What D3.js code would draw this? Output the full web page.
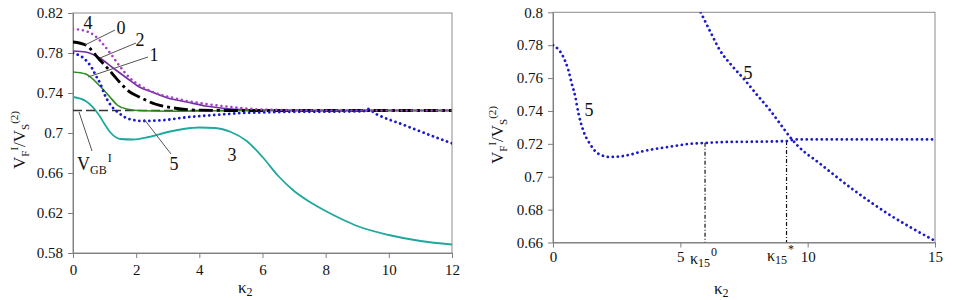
<!DOCTYPE html>
<html>
<head>
<meta charset="utf-8">
<script src="https://cdn.jsdelivr.net/npm/d3@7"></script>
<style>
  body { margin: 0; background: #fff; }
  .axis path, .axis line { stroke: #7f7f7f; }
  .axis text { font-size: 15px; fill: #111; }
</style>
</head>
<body>
<div id="chart"></div>
<script>
// ---- left panel data (kappa2 vs V_F/V_S) ----
var k4 = [0, 0.4, 0.7, 1.0, 1.2, 1.5, 1.8, 2.2, 2.7, 3.2, 3.6, 4.0, 5.0, 6.0, 8.0, 12.0];
var v4 = [0.804, 0.802, 0.797, 0.787, 0.779, 0.766, 0.755, 0.746, 0.739, 0.735, 0.732, 0.730, 0.726, 0.7235, 0.7225, 0.7225];

var k0 = [0, 0.4, 0.85, 1.2, 1.5, 1.8, 2.1, 2.6, 3.2, 4.0, 5.0, 12.0];
var v0 = [0.791, 0.788, 0.773, 0.761, 0.750, 0.741, 0.736, 0.729, 0.725, 0.7228, 0.7225, 0.7225];

var k2 = [0, 0.4, 0.85, 1.27, 1.7, 2.1, 2.5, 3.0, 3.6, 4.2, 5.0, 6.0, 8.0, 12.0];
var v2 = [0.782, 0.781, 0.775, 0.765, 0.755, 0.746, 0.741, 0.735, 0.731, 0.727, 0.724, 0.723, 0.7225, 0.7225];

var k1 = [0, 0.4, 0.85, 1.17, 1.4, 1.7, 2.2, 3.0, 4.0, 6.0, 12.0];
var v1 = [0.761, 0.759, 0.747, 0.736, 0.728, 0.724, 0.7222, 0.7218, 0.722, 0.7225, 0.7225];

var k3 = [0, 0.4, 0.8, 1.0, 1.2, 1.5, 1.9, 2.4, 3.0, 3.5, 4.0, 4.5, 5.0, 5.5, 6.0, 6.5, 7.0, 7.5, 8.0, 8.5, 9.0, 10.0, 11.0, 12.0];
var v3 = [0.736, 0.732, 0.719, 0.709, 0.700, 0.694, 0.6935, 0.696, 0.701, 0.704, 0.7055, 0.705, 0.701, 0.692, 0.676, 0.657, 0.642, 0.631, 0.622, 0.614, 0.607, 0.598, 0.592, 0.5885];

var kGB = [0, 12];
var vGB = [0.7225, 0.7225];

// ---- curve 5, two branches (right panel) ----
var k5a = [0, 0.4, 0.6, 0.73, 0.87, 1.0, 1.19, 1.45, 1.78, 2.24, 2.9, 3.55, 4.47, 5.38, 6.0, 7.0, 8.0, 9.2, 9.5, 12.0, 15.0];
var v5a = [0.780, 0.773, 0.765, 0.757, 0.749, 0.7385, 0.728, 0.720, 0.714, 0.712, 0.713, 0.7156, 0.718, 0.720, 0.7206, 0.7212, 0.7213, 0.7217, 0.7227, 0.7227, 0.7227];

var k5b = [5.8, 6.2, 6.55, 7.0, 7.55, 8.0, 8.52, 9.0, 9.3, 9.6, 10.48, 11.8, 13.1, 15.0];
var v5b = [0.800, 0.7875, 0.777, 0.768, 0.7585, 0.750, 0.7405, 0.7305, 0.7243, 0.719, 0.708, 0.692, 0.678, 0.661];

var kStar = [5.97, 9.17];      // kappa15^0, kappa15^*
var vStar = [0.7206, 0.7217];

var leftXTicks = [0, 2, 4, 6, 8, 10, 12];
var leftYTicks = [0.58, 0.62, 0.66, 0.7, 0.74, 0.78, 0.82];
var rightXTicks = [0, 5, 10, 15];
var rightYTicks = [0.66, 0.68, 0.7, 0.72, 0.74, 0.76, 0.78, 0.8];

var serif = "'Liberation Serif', 'Times New Roman', serif";

function pts(ks, vs) { return ks.map(function(k, i) { return [k, vs[i]]; }); }

var width = 956, height = 300;
var svg = d3.select("#chart").append("svg")
  .attr("width", width).attr("height", height)
  .style("display", "block")
  .attr("font-family", serif);

var defs = svg.append("defs");

function fmt(d) { return String(+d.toFixed(2)); }

function panel(id, x, y, xt, yt, xpad) {
  defs.append("clipPath").attr("id", id)
    .append("rect")
    .attr("x", x.range()[0]).attr("y", y.range()[1])
    .attr("width", x.range()[1] - x.range()[0])
    .attr("height", y.range()[0] - y.range()[1]);

  svg.append("rect")
    .attr("x", x.range()[0]).attr("y", y.range()[1])
    .attr("width", x.range()[1] - x.range()[0])
    .attr("height", y.range()[0] - y.range()[1])
    .attr("fill", "none").attr("stroke", "#8c8c8c").attr("stroke-width", 1);

  svg.append("g").attr("class", "axis")
    .attr("transform", "translate(0," + y.range()[0] + ")")
    .call(d3.axisBottom(x).tickValues(xt).tickSize(5).tickPadding(xpad).tickSizeOuter(0).tickFormat(d3.format("d")))
    .attr("font-family", serif).attr("font-size", 15);

  svg.append("g").attr("class", "axis")
    .attr("transform", "translate(" + x.range()[0] + ",0)")
    .call(d3.axisLeft(y).tickValues(yt).tickSize(5).tickPadding(5).tickSizeOuter(0).tickFormat(fmt))
    .attr("font-family", serif).attr("font-size", 15);

  return svg.append("g").attr("clip-path", "url(#" + id + ")");
}

function draw(g, x, y, data, color, w, dash) {
  var line = d3.line().x(function(d) { return x(d[0]); }).y(function(d) { return y(d[1]); })
    .curve(d3.curveMonotoneX);
  var p = g.append("path").datum(data)
    .attr("d", line)
    .attr("fill", "none")
    .attr("stroke", color)
    .attr("stroke-width", w);
  if (dash) p.attr("stroke-dasharray", dash);
  if (dash && dash.indexOf("0.01") === 0) p.attr("stroke-linecap", "round");
  return p;
}

function label(txt, x, y, size) {
  return svg.append("text").attr("x", x).attr("y", y)
    .attr("font-size", size || 18).attr("text-anchor", "middle").attr("fill", "#111").text(txt);
}

function leader(x1, y1, x2, y2) {
  svg.append("line").attr("x1", x1).attr("y1", y1).attr("x2", x2).attr("y2", y2)
    .attr("stroke", "#555").attr("stroke-width", 1);
}

function yTitle(cx, cy) {
  var t = svg.append("text")
    .attr("transform", "translate(" + cx + "," + cy + ") rotate(-90)")
    .attr("text-anchor", "middle").attr("font-size", 17).attr("fill", "#111");
  t.append("tspan").text("V");
  t.append("tspan").attr("font-size", 11).attr("dy", 4).text("F");
  t.append("tspan").attr("font-size", 11).attr("dy", -11).text("I");
  t.append("tspan").attr("dy", 7).text("/V");
  t.append("tspan").attr("font-size", 11).attr("dy", 4).text("S");
  t.append("tspan").attr("font-size", 11).attr("dy", -11).text("(2)");
}

function kappa(x, y, sub, sup, size) {
  var t = svg.append("text").attr("x", x).attr("y", y).attr("font-size", size || 17).attr("fill", "#111");
  t.append("tspan").text("κ");
  t.append("tspan").attr("font-size", 12).attr("dy", 3).text(sub);
  if (sup) t.append("tspan").attr("font-size", 12).attr("dy", -11).attr("dx", 1).text(sup);
  return t;
}

// ---------- left panel ----------
var xL = d3.scaleLinear().domain([0, 12]).range([73, 452]);
var yL = d3.scaleLinear().domain([0.58, 0.82]).range([253, 13]);
var gL = panel("clipL", xL, yL, leftXTicks, leftYTicks, 6);

// curve 5 on the left follows the lower branch up to the crossing, then the descending one
var left5 = pts(k5a, v5a).filter(function(d) { return d[0] <= 9.2; })
  .concat(pts(k5b, v5b).filter(function(d) { return d[0] >= 9.3; }));

draw(gL, xL, yL, pts(k3, v3), "#1fa89c", 1.8);
draw(gL, xL, yL, pts(kGB, vGB), "#333", 1.3, "9,4");
draw(gL, xL, yL, pts(k2, v2), "#7030a0", 1.6);
draw(gL, xL, yL, pts(k1, v1), "#2e8b1e", 1.6);
draw(gL, xL, yL, pts(k0, v0), "#000", 2.8, "14,4,3,4");
draw(gL, xL, yL, left5, "#1a1acc", 2.8, "0.01,5");
draw(gL, xL, yL, pts(k4, v4), "#a43fc9", 2.6, "0.01,5");

label("4", 88, 29);
label("0", 121, 34);
label("2", 140, 46);
label("1", 154, 61);
label("5", 174, 170);
label("3", 232, 161);
leader(115, 30, 85, 45);
leader(136, 43, 100, 58);
leader(148, 57, 88, 77);
leader(144, 119, 171, 154);
leader(79, 112, 92, 151);

var gb = svg.append("text").attr("x", 77).attr("y", 170).attr("font-size", 18).attr("fill", "#111");
gb.append("tspan").text("V");
gb.append("tspan").attr("font-size", 12).attr("dy", 4).text("GB");
gb.append("tspan").attr("font-size", 12).attr("dy", -12).attr("dx", 1).text("I");

yTitle(25, 140);
kappa(238, 293, "2");

// ---------- right panel ----------
var xR = d3.scaleLinear().domain([0, 15]).range([553, 935]);
var yR = d3.scaleLinear().domain([0.66, 0.8]).range([242.5, 12.3]);
var gR = panel("clipR", xR, yR, rightXTicks, rightYTicks, 4);

kStar.forEach(function(k, i) {
  gR.append("line")
    .attr("x1", xR(k)).attr("x2", xR(k))
    .attr("y1", yR(vStar[i])).attr("y2", yR(0.66))
    .attr("stroke", "#111").attr("stroke-width", 1.2)
    .attr("stroke-dasharray", "4,2,1,2");
});

draw(gR, xR, yR, pts(k5a, v5a), "#1a1acc", 2.8, "0.01,5");
draw(gR, xR, yR, pts(k5b, v5b), "#1a1acc", 2.8, "0.01,5");

label("5", 589, 116);
label("5", 748, 79);

kappa(690, 264, "15", "0", 16);
kappa(767, 261, "15", "*", 16);

yTitle(503, 135);
kappa(714, 294, "2");
</script>
</body>
</html>
